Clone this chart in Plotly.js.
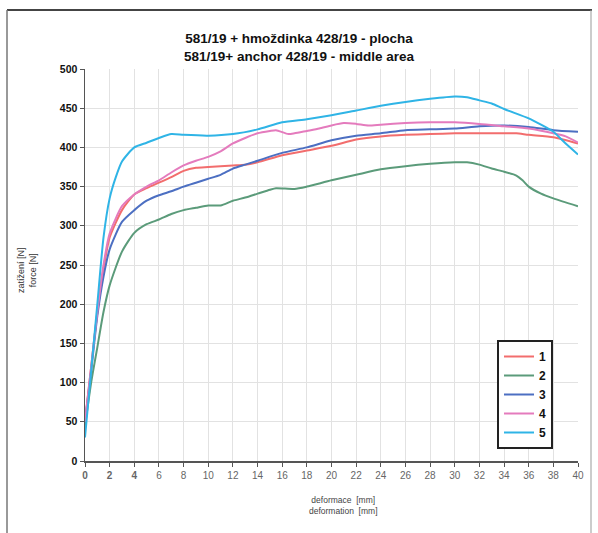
<!DOCTYPE html>
<html>
<head>
<meta charset="utf-8">
<script src="https://cdn.plot.ly/plotly-3.0.1.min.js"></script>
<style>html,body{margin:0;padding:0;background:#fff;}#chart{width:598px;height:533px;}</style>
</head>
<body>
<div id="chart"></div>
<script>
// deformation [mm]
const x1 = [0,0.5,1,1.5,2,3,4,5,6,7,8,9,10,12,13,14,16,18,20,22,24,26,28,30,32,34,35,36,38,40];
const y1 = [50,120,190,245,285,320,340,348,355,362,370,374,375,377,378,381,390,396,402,410,414,416,417,418,418,418,418,416,413,405];

const x2 = [0,0.5,1,1.5,2,3,4,5,6,7,8,9,10,11,12,13,14,15,15.5,17,18,20,22,24,26,28,30,31,32,33,34,35,35.5,36,37,38,40];
const y2 = [45,100,145,190,224,267,291,302,308,315,320,323,326,326,332,336,341,346,348,347,350,358,365,372,376,379,381,381,378,373,369,364,358,350,341,335,325];

const x3 = [0,0.5,1,1.5,2,3,4,5,6,7,8,9,10,11,12,13,14,16,18,20,22,24,26,28,30,32,34,36,38,40];
const y3 = [50,115,185,235,270,305,320,332,339,344,350,355,360,365,373,378,383,393,400,409,415,418,422,423,424,427,428,426,422,420];

const x4 = [0,0.5,1,1.5,2,3,4,5,6,7,8,9,10,11,12,13,14,15,15.5,16.5,17,18,19,20,21,22,23,24,26,28,30,32,34,36,38,39,40];
const y4 = [50,120,190,250,290,325,340,350,358,368,377,383,388,395,405,412,418,421,422,417,418,421,424,428,431,430,428,429,431,432,432,430,427,424,418,414,406];

const x5 = [0,0.5,1,1.5,2,2.5,3,4,5,6,7,8,10,12,14,16,18,20,22,24,26,28,30,31,32,33,34,36,37,38,39,40];
const y5 = [30,115,200,285,335,362,382,400,406,412,417,416,415,417,423,432,436,441,447,453,458,462,465,464,460,456,449,437,429,420,405,391];

const seriesNames = ["1","2","3","4","5"];
const seriesColors = ["#f26d6d","#5b9b7a","#4c6fc2","#e47bbd","#2fb4e6"];

const xTickVals = [0,2,4,6,8,10,12,14,16,18,20,22,24,26,28,30,32,34,36,38,40];
const yTickVals = [0,50,100,150,200,250,300,350,400,450,500];

const xs = [x1,x2,x3,x4,x5];
const ys = [y1,y2,y3,y4,y5];
const traces = xs.map((x,i)=>({
  x:x, y:ys[i], type:'scatter', mode:'lines', name:seriesNames[i],
  line:{color:seriesColors[i], width:2, shape:'spline', smoothing:0.6}
}));

const xTickText = xTickVals.map(v => v<=4 ? '<b>'+v+'</b>' : String(v));

const px = v => (v-85)/493;
const py = v => (461-v)/392;

const layout = {
  width:598, height:533,
  margin:{l:85, r:20, t:69, b:72},
  paper_bgcolor:'#fff', plot_bgcolor:'#fff',
  font:{family:'Liberation Sans, Arial, sans-serif', color:'#111'},
  title:{text:'<b>581/19 + hmoždinka 428/19 - plocha<br>581/19+ anchor 428/19 - middle area</b>',
         font:{size:13.5, color:'#111'}, x:0.5, xanchor:'center', y:1-43/533, yanchor:'middle'},
  showlegend:true,
  legend:{x:px(497), y:py(340), xanchor:'left', yanchor:'top',
          bordercolor:'#222', borderwidth:2, bgcolor:'#fff',
          font:{size:12, color:'#111', family:'Liberation Sans, Arial, sans-serif', weight:'bold'},
          itemwidth:30, tracegroupgap:0},
  xaxis:{range:[0,40], tickvals:xTickVals, ticktext:xTickText,
         tickfont:{size:10, color:'#666'}, showgrid:true, gridcolor:'#e2e2e2', gridwidth:1,
         showline:true, linecolor:'#555', linewidth:1.5, ticks:'outside', ticklen:4, tickcolor:'#555',
         zeroline:false, fixedrange:true},
  yaxis:{range:[0,500], tickvals:yTickVals,
         tickfont:{size:10.5, color:'#111', weight:'bold'}, showgrid:true, gridcolor:'#e2e2e2', gridwidth:1,
         showline:true, linecolor:'#555', linewidth:1.5, ticks:'outside', ticklen:4, tickcolor:'#555',
         zeroline:false, fixedrange:true},
  annotations:[
    {text:'zatížení [N]<br>force [N]', xref:'paper', yref:'paper', x:px(27), y:py(270),
     showarrow:false, textangle:-90, font:{size:9, color:'#333'}, xanchor:'center', yanchor:'middle'},
    {text:'deformace  [mm]<br>deformation  [mm]', xref:'paper', yref:'paper', x:px(343), y:py(505),
     showarrow:false, font:{size:8.5, color:'#444'}, xanchor:'center', yanchor:'middle'}
  ],
  shapes:[
    {type:'line', xref:'paper', yref:'paper', x0:px(7), x1:px(592), y0:py(10), y1:py(10), line:{color:'#444', width:2}},
    {type:'line', xref:'paper', yref:'paper', x0:px(7), x1:px(7), y0:py(10), y1:py(533), line:{color:'#777', width:1.5}},
    {type:'line', xref:'paper', yref:'paper', x0:px(591), x1:px(591), y0:py(10), y1:py(533), line:{color:'#999', width:1}}
  ]
};

Plotly.newPlot('chart', traces, layout, {displayModeBar:false, staticPlot:true});
</script>
</body>
</html>
